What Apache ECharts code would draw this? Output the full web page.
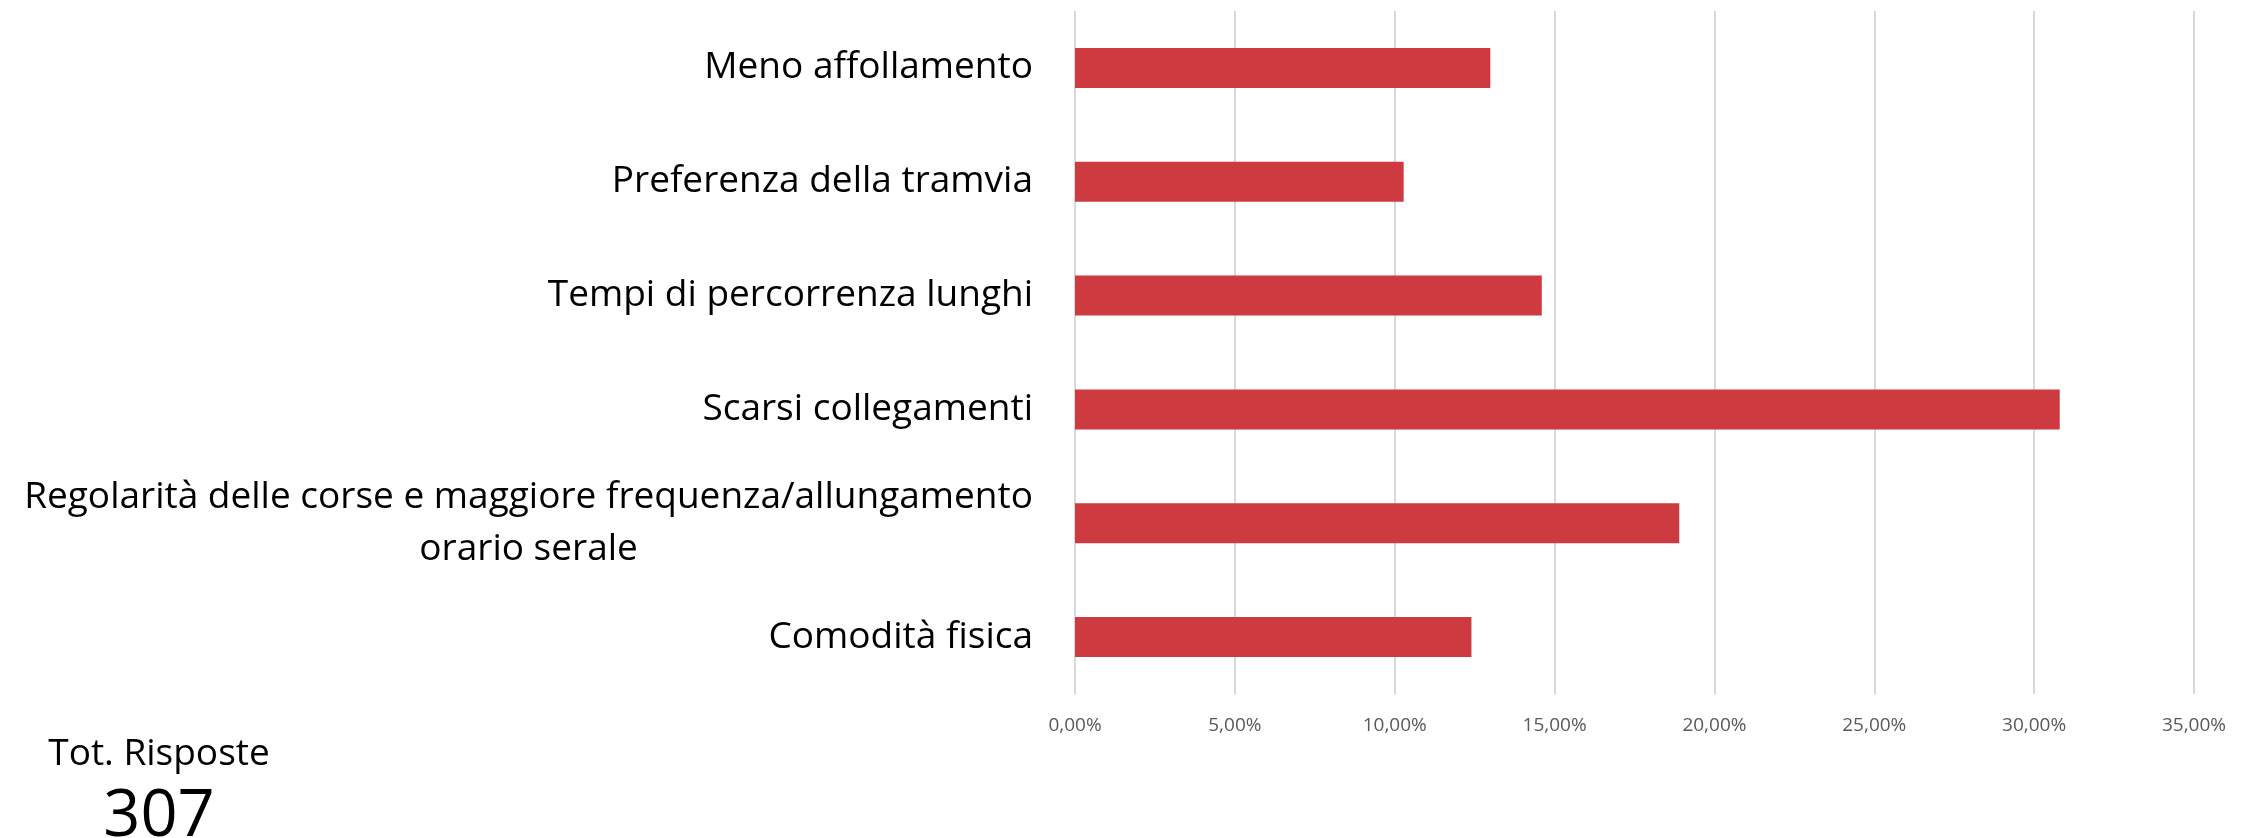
<!DOCTYPE html>
<html>
<head>
<meta charset="utf-8">
<script src="https://cdn.jsdelivr.net/npm/echarts@6/dist/echarts.min.js"></script>
<style>
  html, body { margin: 0; padding: 0; background: #fff; }
  #chart { width: 2259px; height: 838px; }
</style>
</head>
<body>
<div id="chart"></div>
<script>
// categories top to bottom
const categories = [
  "Meno affollamento",
  "Preferenza della tramvia",
  "Tempi di percorrenza lunghi",
  "Scarsi collegamenti",
  "Regolarità delle corse e maggiore frequenza/allungamento\norario serale",
  "Comodità fisica"
];
// share of answers, percent
const shares = [12.99, 10.28, 14.6, 30.8, 18.9, 12.4];
const totalAnswers = 307;

const chart = echarts.init(document.getElementById("chart"));

const option = {
  animation: false,
  backgroundColor: "#fff",
  textStyle: { fontFamily: "Open Sans" },
  title: [
    {
      text: "Tot. Risposte",
      left: 154, top: 731,
      textAlign: "center",
      textStyle: { fontFamily: "Open Sans", fontSize: 37, fontWeight: "normal", color: "#000" }
    },
    {
      text: String(totalAnswers),
      left: 154, top: 780,
      textAlign: "center",
      textStyle: { fontFamily: "Open Sans", fontSize: 65, fontWeight: "normal", color: "#000" }
    }
  ],
  grid: { left: 1075, right: 65, top: 11, bottom: 144, containLabel: false },
  xAxis: {
    type: "value",
    min: 0, max: 35, interval: 5,
    axisLine: { show: false },
    axisTick: { show: false },
    splitLine: { show: true, lineStyle: { color: "#d9d9d9", width: 2 } },
    axisLabel: {
      margin: 22,
      color: "#595959",
      fontSize: 19,
      fontFamily: "Open Sans",
      formatter: (v) => v.toFixed(2).replace(".", ",") + "%"
    }
  },
  yAxis: {
    type: "category",
    inverse: true,
    data: categories,
    axisLine: { show: false },
    axisTick: { show: false },
    axisLabel: {
      margin: 42,
      color: "#000",
      fontSize: 37,
      fontFamily: "Open Sans",
      lineHeight: 52,
      formatter: (v) => v.split("\n").map((s) => "{c|" + s + "}").join("\n"),
      rich: {
        c: { align: "center", fontSize: 37, fontFamily: "Open Sans", color: "#000", lineHeight: 52 }
      }
    }
  },
  series: [
    {
      type: "bar",
      data: shares,
      barWidth: 40,
      itemStyle: { color: "#cd3b40" }
    }
  ]
};

chart.setOption(option);
</script>
</body>
</html>
